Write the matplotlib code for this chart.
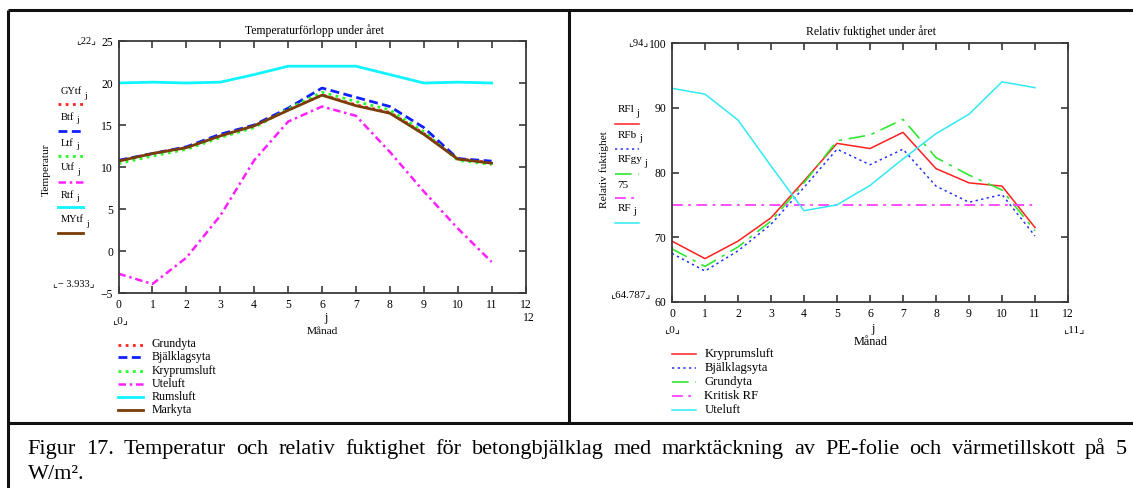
import matplotlib
matplotlib.use("Agg")
import matplotlib.pyplot as plt
from matplotlib.lines import Line2D

# ---- data -------------------------------------------------------------
months = list(range(12))

# temperature (deg C)
GYtf = [10.7, 11.6, 12.3, 13.7, 14.9, 16.8, 18.6, 17.4, 16.5, 14.0, 11.0, 10.5]
Btf = [10.8, 11.6, 12.4, 13.9, 15.0, 17.0, 19.4, 18.3, 17.2, 14.7, 11.0, 10.7]
Ltf = [10.4, 11.3, 12.1, 13.5, 14.7, 16.9, 18.9, 17.8, 16.8, 14.2, 10.8, 10.3]
Utf = [-2.7, -3.933, -0.8, 4.2, 10.8, 15.4, 17.2, 16.1, 11.8, 7.1, 2.7, -1.3]
Rtf = [20.0, 20.1, 20.0, 20.1, 21.0, 22.0, 22.0, 22.0, 21.0, 20.0, 20.1, 20.0]
MYtf = [10.7, 11.6, 12.3, 13.7, 14.9, 16.75, 18.55, 17.3, 16.4, 13.9, 10.95, 10.45]

# relative humidity (%)
RFl = [69.4, 66.7, 69.4, 73.0, 78.7, 84.5, 83.7, 86.2, 80.6, 78.4, 77.9, 71.5]
RFb = [67.5, 64.787, 67.9, 72.0, 77.7, 83.6, 81.2, 83.6, 77.9, 75.4, 76.6, 70.2]
RFgy = [68.2, 65.5, 68.5, 72.5, 78.4, 84.9, 85.8, 88.2, 82.3, 79.6, 77.3, 71.0]
RF_krit = [75] * 12
RF = [93.0, 92.1, 88.1, 81.0, 74.1, 75.0, 78.0, 82.1, 86.0, 89.0, 94.0, 93.1]

temp_names = ["Grundyta", "Bjälklagsyta", "Kryprumsluft", "Uteluft", "Rumsluft", "Markyta"]
temp_keys = ["GYtf", "Btf", "Ltf", "Utf", "Rtf", "MYtf"]
rh_names = ["Kryprumsluft", "Bjälklagsyta", "Grundyta", "Kritisk RF", "Uteluft"]
rh_keys = ["RFl", "RFb", "RFgy", "75", "RF"]

caption_1 = ("Figur 17. Temperatur och relativ fuktighet för betongbjälklag med "
             "marktäckning av PE-folie och värmetillskott på 5")
caption_2 = "W/m²."

# ---- styles -----------------------------------------------------------
SERIF = ["Liberation Serif", "DejaVu Serif"]
MARK = ["Liberation Serif", "DejaVu Sans"]
SPINE = "#3a3a3a"

temp_styles = [
    dict(color="#ff2020", ls=(0, (1, 1.6)), lw=2.0),
    dict(color="#1020ff", ls=(0, (3.2, 1.6)), lw=2.0),
    dict(color="#20ff20", ls=(0, (1, 1.6)), lw=2.0),
    dict(color="#ff20ff", ls=(0, (3, 1.5, 1, 1.5)), lw=1.8),
    dict(color="#10f4ff", ls="-", lw=2.0),
    dict(color="#7a3c08", ls="-", lw=2.0),
]
rh_styles = [
    dict(color="#ff2020", ls="-", lw=1.1),
    dict(color="#2030ff", ls=(0, (1.5, 2.2)), lw=1.1),
    dict(color="#30e830", ls=(0, (10, 4, 2, 4)), lw=1.2),
    dict(color="#ff40ff", ls=(0, (6, 3, 1.5, 3)), lw=1.3),
    dict(color="#30eaf4", ls="-", lw=1.1),
]

W, H = 1133, 488
fig = plt.figure(figsize=(W / 100, H / 100), dpi=100)
fig.patch.set_facecolor("white")


def fx(x):
    return x / W


def fy(y):
    return 1 - y / H


def ftext(x, y, s, size=8, ha="left", va="center", family=SERIF, **kw):
    return fig.text(fx(x), fy(y), s, fontsize=size, ha=ha, va=va,
                    family=family, **kw)


def fline(x0, x1, y0, y1, **kw):
    fig.add_artist(Line2D([fx(x0), fx(x1)], [fy(y0), fy(y1)],
                          transform=fig.transFigure, **kw))


def make_axes(x0, x1, ytop, ybot):
    ax = fig.add_axes([fx(x0), fy(ybot), (x1 - x0) / W, (ybot - ytop) / H])
    for sp in ax.spines.values():
        sp.set_color(SPINE)
        sp.set_linewidth(1.3)
    ax.tick_params(direction="in", length=5, width=1.2, color=SPINE,
                   top=True, right=True, labelsize=8.4, pad=4)
    return ax


renderer = fig.canvas.get_renderer()


def label_with_sub(x, y, main, size):
    t = ftext(x, y, main, size=size)
    bb = t.get_window_extent(renderer=renderer)
    xr = bb.x1 * W / (fig.bbox.width) + 2.5
    ftext(xr, y + 3.5, "j", size=size - 1)


# ---- left: temperature ------------------------------------------------
axL = make_axes(118.5, 525.5, 41, 293)
temp_series = [GYtf, Btf, Ltf, Utf, Rtf, MYtf]
for vals, st in zip(temp_series, temp_styles):
    axL.plot(months, vals, color=st["color"], linestyle=st["ls"], lw=st["lw"])
axL.set_xlim(0, 12)
axL.set_ylim(-5, 25)
axL.set_xticks(range(13))
axL.set_yticks(range(-5, 26, 5))
axL.set_yticklabels(["−5", "0", "5", "10", "15", "20", "25"], family=SERIF)
axL.set_xticklabels([str(i) for i in range(13)], family=SERIF)

ftext(315, 31, "Temperaturförlopp under året", size=8.5, ha="center")
ftext(86, 41, "⌞22⌟", size=7.5, ha="center", family=MARK)
ftext(74, 284, "⌞− 3.933⌟", size=7.5, ha="center", family=MARK)
ftext(120, 321, "⌞0⌟", size=8, ha="center", family=MARK)
ftext(326, 318, "j", size=8.5, ha="center")
ftext(529, 318, "12", size=8.4, ha="center")
ftext(322, 331, "Månad", size=8.2, ha="center")
ftext(46.5, 170, "Temperatur", size=8.2, ha="center", rotation=90)

side_y = [92, 117, 143, 168, 195, 220]
line_y = [104.3, 130.7, 156, 181.7, 206.7, 232.7]
for key, ty, ly, st in zip(temp_keys, side_y, line_y, temp_styles):
    label_with_sub(60.5, ty, key, 7.5)
    fline(57.7, 83.3, ly, ly, color=st["color"], linestyle=st["ls"], lw=st["lw"])

leg_y = [344.5, 357, 371, 384, 397, 410]
for name, ly, st in zip(temp_names, leg_y, temp_styles):
    fline(118, 143, ly, ly, color=st["color"], linestyle=st["ls"], lw=st["lw"])
    ftext(152, ly, name, size=8.6)

# ---- right: relative humidity -----------------------------------------
axR = make_axes(672, 1068, 43, 302)
rh_series = [RFl, RFb, RFgy, RF_krit, RF]
for vals, st in zip(rh_series, rh_styles):
    axR.plot(months, vals, color=st["color"], linestyle=st["ls"], lw=st["lw"])
axR.set_xlim(0, 12)
axR.set_ylim(60, 100)
axR.set_xticks(range(13))
axR.set_yticks(range(60, 101, 10))
axR.set_xticklabels([str(i) for i in range(13)], family=SERIF)
axR.set_yticklabels([str(v) for v in range(60, 101, 10)], family=SERIF)

ftext(871, 31.5, "Relativ fuktighet under året", size=8.5, ha="center")
ftext(638, 43, "⌞94⌟", size=7.5, ha="center", family=MARK)
ftext(630, 295, "⌞64.787⌟", size=7.8, ha="center", family=MARK)
ftext(672, 330, "⌞0⌟", size=8, ha="center", family=MARK)
ftext(873, 329, "j", size=8.8, ha="center")
ftext(1074, 330, "⌞11⌟", size=8, ha="center", family=MARK)
ftext(871, 342, "Månad", size=8.8, ha="center")
ftext(604, 170, "Relativ fuktighet", size=8.2, ha="center", rotation=90)

rside_y = [110, 135, 160, 186, 208.3]
rline_y = [124, 149.3, 174, 197.7, 222.7]
for key, ty, ly, st in zip(rh_keys, rside_y, rline_y, rh_styles):
    if key == "75":
        ftext(617.3, ty, key, size=8)
    else:
        label_with_sub(617.3, ty, key, 8)
    fline(615, 639.3, ly, ly, color=st["color"], linestyle=st["ls"], lw=st["lw"])

rleg_y = [354, 368, 382.3, 395.7, 410]
for name, ly, st in zip(rh_names, rleg_y, rh_styles):
    fline(672, 695.5, ly, ly, color=st["color"], linestyle=st["ls"], lw=st["lw"])
    ftext(704.5, ly, name, size=9.2)

# ---- frame and caption -------------------------------------------------
frame = dict(color="#111111", lw=2.2, solid_capstyle="butt")
fline(7.5, 1133, 9.5, 9.5, **frame)
fline(7.5, 7.5, 9.5, 488, **frame)
fline(568.5, 568.5, 9.5, 423, **frame)
fline(7.5, 1133, 423, 423, **frame)

# justified first caption line
words = caption_1.split(" ")
cap_size = 16
objs = [ftext(0, 454, w, size=cap_size, va="baseline") for w in words]
widths = [o.get_window_extent(renderer=renderer).width for o in objs]
x_left, x_right = 27.5, 1127
gap = (x_right - x_left - sum(widths)) / (len(words) - 1)
xpos = x_left
for o, w in zip(objs, widths):
    o.set_x(fx(xpos))
    xpos += w + gap
ftext(27.5, 479, caption_2, size=cap_size, va="baseline")

fig.savefig("out.png", dpi=100, facecolor="white")
